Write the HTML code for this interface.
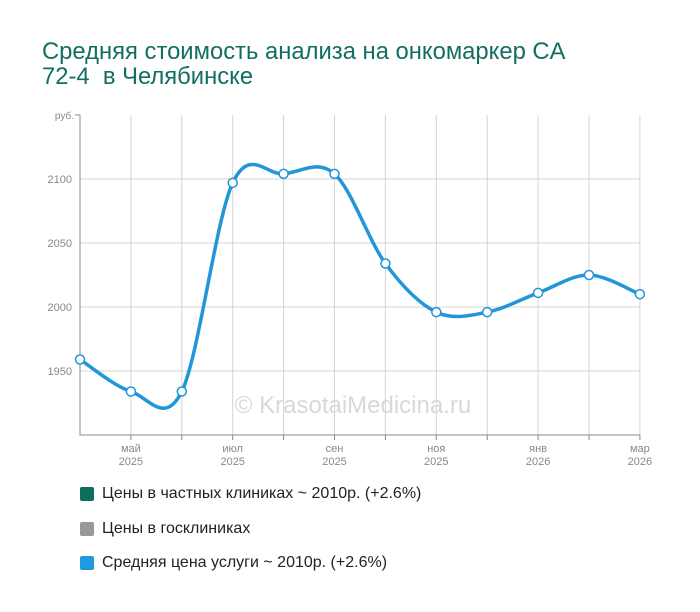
<!DOCTYPE html>
<html><head><meta charset="utf-8"><style>
body{margin:0;background:#fff;font-family:"Liberation Sans",sans-serif;}
#wrap{position:relative;width:700px;height:612px;overflow:hidden;}
.title{position:absolute;left:42px;top:39px;font-size:23.8px;line-height:25px;color:#136e62;}
.leg{position:absolute;left:80px;font-size:16px;color:#222;display:flex;align-items:center;}
.sw{width:14px;height:14px;margin-right:8px;border-radius:2px;}
</style></head><body>
<div id="wrap">
<div class="title">Средняя стоимость анализа на онкомаркер CA<br>72-4&nbsp; в Челябинске</div>
<svg id="chart" width="700" height="612" style="position:absolute;left:0;top:0"></svg>
<div class="leg" style="top:485px"><div class="sw" style="background:#0e6e5e"></div>Цены в частных клиниках ~ 2010р. (+2.6%)</div>
<div class="leg" style="top:520px"><div class="sw" style="background:#999"></div>Цены в госклиниках</div>
<div class="leg" style="top:554px"><div class="sw" style="background:#1e9be0"></div>Средняя цена услуги ~ 2010р. (+2.6%)</div>
</div>
<script>
const months=["апр","май","июн","июл","авг","сен","окт","ноя","дек","янв","фев","мар"];
const years=["2025","2025","2025","2025","2025","2025","2025","2025","2025","2026","2026","2026"];
const values=[1959,1934,1934,2097,2104,2104,2034,1996,1996,2011,2025,2010];
const yTicks=[1950,2000,2050,2100];
const NS="http://www.w3.org/2000/svg";
const svg=document.getElementById('chart');
const x0=80,dx=50.9,yBase=307,yPer=1.28;
const X=i=>x0+i*dx;
const Y=v=>yBase-(v-2000)*yPer;
function mk(t,a,p){const e=document.createElementNS(NS,t);for(const k in a)e.setAttribute(k,a[k]);(p||svg).appendChild(e);return e;}
yTicks.forEach(t=>{
 const l=mk('line',{x1:80,x2:640,y1:Y(t),y2:Y(t),stroke:'#d4d4d4','stroke-width':1});
 
 
 const tx=mk('text',{x:72,y:Y(t)+4,'text-anchor':'end','font-size':11,fill:'#888','font-family':'Liberation Sans'});
 tx.textContent=t;
 
 
});
for(let i=1;i<months.length;i++){
 const l=mk('line',{x1:X(i),x2:X(i),y1:115,y2:435,stroke:'#d4d4d4','stroke-width':1});
 
 
 mk('line',{x1:X(i),x2:X(i),y1:435,y2:440,stroke:'#888'});
 if(i%2===1){
  const t=mk('text',{x:X(i),y:452,'text-anchor':'middle','font-size':11,fill:'#888','font-family':'Liberation Sans'});
  t.textContent=months[i];
  
  
  const t2=mk('text',{x:X(i),y:465,'text-anchor':'middle','font-size':11,fill:'#888','font-family':'Liberation Sans'});
  t2.textContent=years[i];
  
  
 }
}
const ax=mk('path',{d:'M80 115 V435 H640',stroke:'#888',fill:'none','stroke-width':1});


mk('line',{x1:75,x2:80,y1:115,y2:115,stroke:'#888'});
const ru=mk('text',{x:74,y:119,'text-anchor':'end','font-size':10,fill:'#888','font-family':'Liberation Sans'});
ru.textContent='руб.';


const wm=mk('text',{x:353,y:413,'text-anchor':'middle','font-size':24,fill:'#d8d8d8','font-family':'Liberation Sans'});
wm.textContent='© KrasotaiMedicina.ru';


const pts=values.map((v,i)=>[X(i),Y(v)]);
let d='M'+pts[0][0]+' '+pts[0][1];
for(let i=0;i<pts.length-1;i++){
 const p0=pts[Math.max(0,i-1)],p1=pts[i],p2=pts[i+1],p3=pts[Math.min(pts.length-1,i+2)];
 const c1=[p1[0]+(p2[0]-p0[0])/6,p1[1]+(p2[1]-p0[1])/6];
 const c2=[p2[0]-(p3[0]-p1[0])/6,p2[1]-(p3[1]-p1[1])/6];
 d+=` C${c1[0]} ${c1[1]} ${c2[0]} ${c2[1]} ${p2[0]} ${p2[1]}`;
}
const line=mk('path',{d:d,stroke:'#2196d8',fill:'none','stroke-width':3.5});


pts.forEach(p=>{
 const c=mk('circle',{cx:p[0],cy:p[1],r:4.5,fill:'#fff',stroke:'#2196d8','stroke-width':1.5});
 
 
});
</script>
</body></html>
